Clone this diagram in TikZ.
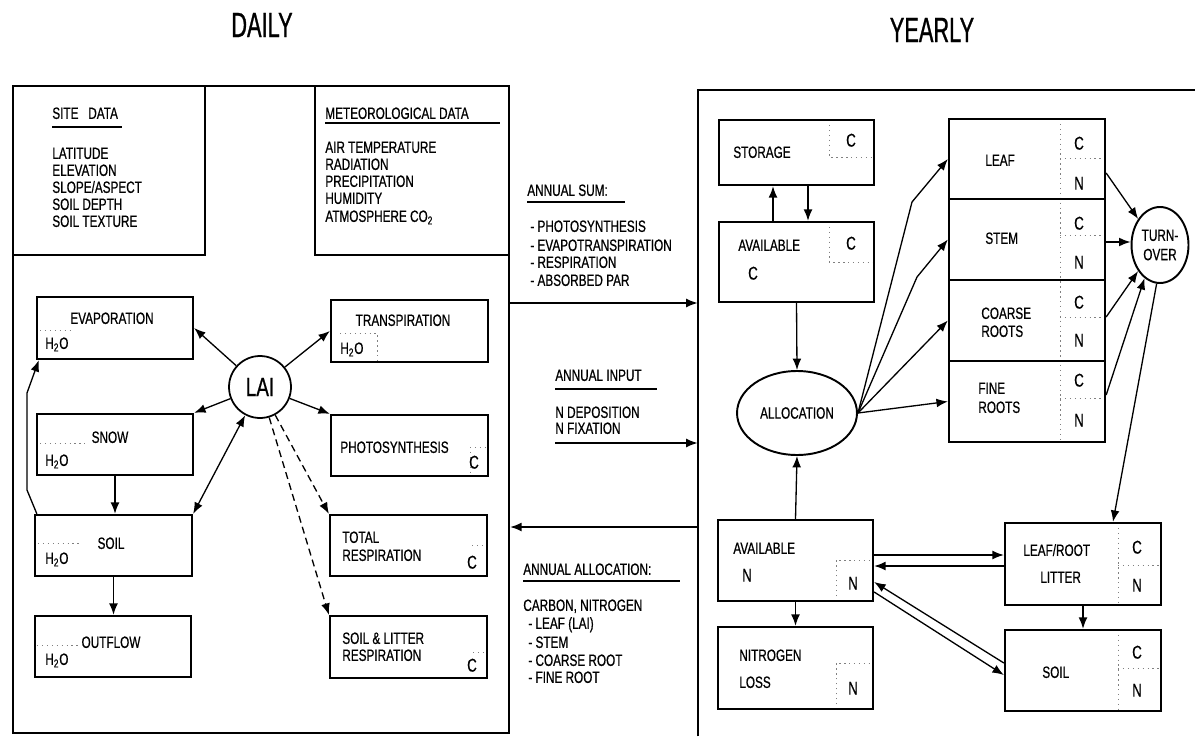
\documentclass[tikz,border=0pt]{standalone}
\usepackage{fontspec}
\setmainfont{Liberation Sans}[FakeStretch=0.72,FakeBold=0.6]
\newfontfamily\titlefont{Liberation Sans}[FakeStretch=0.62,FakeBold=0.8]
\usetikzlibrary{arrows.meta,shapes.geometric,fit}
\tikzset{
 cbox/.style={draw, line width=1.3pt, inner sep=0pt},
 outer/.style={line width=1.3pt},
 lbl/.style={inner sep=0pt, anchor=west, text height=6.7pt, text depth=0pt, font=\fontsize{9.3pt}{11pt}\selectfont},
 cn/.style={lbl, anchor=center, font=\fontsize{10.5pt}{12pt}\selectfont, text height=7.5pt},
 ttl/.style={inner sep=0pt, font=\titlefont\fontsize{20pt}{22pt}\selectfont},
 flow/.style={line width=0.75pt, -{Latex[length=6.5pt,width=5pt]}},
 flowtwo/.style={line width=0.75pt, {Latex[length=6.5pt,width=5pt]}-{Latex[length=6.5pt,width=5pt]}},
 dflow/.style={flow, dash pattern=on 4pt off 2.5pt},
 dsep/.style={line width=0.5pt, gray, dash pattern=on 0.8pt off 2pt},
 uline/.style={line width=1.3pt},
}
\begin{document}
\begin{tikzpicture}[x=0.02cm,y=-0.02cm]
\fill[white] (0,0) rectangle (1195,736);
\useasboundingbox (0,0) rectangle (1195,736);

% titles
\node[ttl] (tdaily) at (262,25) {DAILY};
\node[ttl] (tyearly) at (932,30) {YEARLY};

% ---------- dotted compartment separators ----------
\draw[dsep] (40,330)--(70,330);
\draw[dsep] (340,333)--(377,333)--(377,360);
\draw[dsep] (40,443)--(85,443);
\draw[dsep] (470,447)--(486,447) (470,447)--(470,474);
\draw[dsep] (38,543)--(82,543);
\draw[dsep] (37,645)--(80,645);
\draw[dsep] (472,545)--(485,545);
\draw[dsep] (473,652)--(485,652);
\draw[dsep] (829,120)--(829,157)--(874,157);
\draw[dsep] (829,222)--(829,262)--(874,262);
\draw[dsep] (1060,119)--(1060,442);
\draw[dsep] (1060,158)--(1105,158) (1060,235)--(1105,235) (1060,317)--(1105,317) (1060,398)--(1105,398);
\draw[dsep] (836,601)--(836,560)--(873,560);
\draw[dsep] (836,709)--(836,663)--(873,663);
\draw[dsep] (1118,523)--(1118,605) (1118,565)--(1161,565);
\draw[dsep] (1118,630)--(1118,711) (1118,668)--(1161,668);

% ---------- DAILY panel ----------
\node[cbox, fit={(13,86) (509,733)}] (dailybox) {};
\node[cbox, fit={(13,86) (205,255)}] (site) {};
\node[cbox, fit={(315,86) (509,255)}] (meteo) {};

\node[lbl] (siteh) at (52,113) {SITE\ \ \ DATA};
\draw[uline] (52,127) -- (122,127);
\node[lbl] (s1) at (52,153) {LATITUDE};
\node[lbl] (s2) at (52,170) {ELEVATION};
\node[lbl] (s3) at (52,187) {SLOPE/ASPECT};
\node[lbl] (s4) at (52,204) {SOIL DEPTH};
\node[lbl] (s5) at (52,221) {SOIL TEXTURE};

\node[lbl] (meth) at (325,113) {METEOROLOGICAL DATA};
\draw[uline] (325,123) -- (500,123);
\node[lbl] (m1) at (325,147) {AIR TEMPERATURE};
\node[lbl] (m2) at (325,164) {RADIATION};
\node[lbl] (m3) at (325,181) {PRECIPITATION};
\node[lbl] (m4) at (325,198) {HUMIDITY};
\node[lbl] (m5) at (325,216) {ATMOSPHERE CO\textsubscript{2}};

\node[cbox, fit={(37,297) (193,359)}] (evap) {};
\node[cbox, fit={(37,414) (193,475)}] (snow) {};
\node[cbox, fit={(35,515) (192,576)}] (soil) {};
\node[cbox, fit={(35,616) (191,677)}] (outflow) {};
\node[cbox, fit={(331,300) (488,362)}] (transp) {};
\node[cbox, fit={(331,415) (488,476)}] (photo) {};
\node[cbox, fit={(330,515) (487,576)}] (totresp) {};
\node[cbox, fit={(330,616) (487,678)}] (slr) {};

\node[lbl, anchor=center] (evapT) at (112,318) {EVAPORATION};
\node[lbl] (evapH) at (45,343) {H\textsubscript{2}O};
\node[lbl, anchor=center] (snowT) at (110,437) {SNOW};
\node[lbl] (snowH) at (45,460) {H\textsubscript{2}O};
\node[lbl, anchor=center] (soilT) at (111,543) {SOIL};
\node[lbl] (soilH) at (45,558) {H\textsubscript{2}O};
\node[lbl, anchor=center] (outT) at (111,642) {OUTFLOW};
\node[lbl] (outH) at (45,659) {H\textsubscript{2}O};
\node[lbl, anchor=center] (transpT) at (403,320) {TRANSPIRATION};
\node[lbl] (transpH) at (340,348) {H\textsubscript{2}O};
\node[lbl] (photoT) at (340,447) {PHOTOSYNTHESIS};
\node[cn] (photoC) at (474,462) {C};
\node[lbl] (trT1) at (342,537) {TOTAL};
\node[lbl] (trT2) at (342,555) {RESPIRATION};
\node[cn] (trC) at (472,562) {C};
\node[lbl] (slT1) at (342,638) {SOIL \& LITTER};
\node[lbl] (slT2) at (342,655) {RESPIRATION};
\node[cn] (slC) at (472,665) {C};

\node[draw, circle, line width=1pt, minimum size=1.24cm, inner sep=0pt,
      font=\fontsize{15pt}{17pt}\selectfont] (lai) at (260,387) {LAI};

\draw[flow] (lai) -- (evap.east);
\draw[flow] (lai) -- (transp.west);
\draw[flow] (lai) -- (snow.north east);
\draw[flow] (lai) -- (photo.north west);
\draw[flowtwo] (lai) -- (soil.north east);
\draw[dflow] (lai) -- (totresp.north west);
\draw[dflow] (lai) -- (slr.north west);
\draw[flow] (snow.south) -- (snow.south |- soil.north);
\draw[flow] (soil.south) -- (soil.south |- outflow.north);
\coordinate (ev1) at (27,490);
\coordinate (ev2) at (27,393);
\draw[flow] ([xshift=0.06cm]soil.north west) -- (ev1) -- (ev2) -- ([xshift=0.06cm]evap.south west);

% ---------- YEARLY panel ----------
\node[inner sep=0pt, fit={(698,90) (1195,736)}] (yearlybox) {};
\draw[outer] (yearlybox.south west) -- (yearlybox.north west) -- (yearlybox.north east);

% ---------- middle texts and flows ----------
\node[lbl] (sumh) at (527,190) {ANNUAL SUM:};
\draw[uline] (527,202) -- (625,202);
\node[lbl] (sum1) at (530,226) {- PHOTOSYNTHESIS};
\node[lbl] (sum2) at (530,245) {- EVAPOTRANSPIRATION};
\node[lbl] (sum3) at (530,262) {- RESPIRATION};
\node[lbl] (sum4) at (530,280) {- ABSORBED PAR};

\node[lbl] (inh) at (555,375) {ANNUAL INPUT};
\draw[uline] (555,389) -- (657,389);
\node[lbl] (in1) at (555,412) {N DEPOSITION};
\node[lbl] (in2) at (555,428) {N FIXATION};

\node[lbl] (alh) at (523,569) {ANNUAL ALLOCATION:};
\draw[uline] (523,581) -- (680,581);
\node[lbl] (al0) at (523,605) {CARBON, NITROGEN};
\node[lbl] (al1) at (528,623) {- LEAF (LAI)};
\node[lbl] (al2) at (528,642) {- STEM};
\node[lbl] (al3) at (528,660) {- COARSE ROOT};
\node[lbl] (al4) at (528,677) {- FINE ROOT};

\coordinate (ysum) at (600,303);
\draw[flow] (dailybox.east |- ysum) -- (yearlybox.west |- ysum);
\coordinate (inS) at (555,443);
\draw[flow] (inS) -- (yearlybox.west |- inS);
\coordinate (yback) at (600,527);
\draw[flow] (yearlybox.west |- yback) -- (dailybox.east |- yback);

% ---------- YEARLY boxes ----------
\node[cbox, fit={(719,120) (874,185)}] (storage) {};
\node[cbox, fit={(719,222) (874,302)}] (availC) {};
\node[cbox, fit={(949,119) (1105,199)}] (leaf) {};
\node[cbox, fit={(949,199) (1105,280)}] (stem) {};
\node[cbox, fit={(949,280) (1105,361)}] (coarse) {};
\node[cbox, fit={(949,361) (1105,442)}] (fine) {};
\node[cbox, fit={(718,520) (873,601)}] (availN) {};
\node[cbox, fit={(718,627) (873,709)}] (nloss) {};
\node[cbox, fit={(1005,523) (1161,605)}] (litter) {};
\node[cbox, fit={(1005,630) (1161,711)}] (soilR) {};

\node[lbl] (storT) at (733,152) {STORAGE};
\node[cn] (storC) at (851,140) {C};
\node[lbl] (avcT) at (738,245) {AVAILABLE};
\node[cn] (avcT2) at (753,273) {C};
\node[cn] (avcC) at (851,243) {C};

\node[lbl] (leafT) at (985,160) {LEAF};
\node[cn] (leafC) at (1079,143) {C};
\node[cn] (leafN) at (1079,183) {N};
\node[lbl] (stemT) at (985,238) {STEM};
\node[cn] (stemC) at (1079,223) {C};
\node[cn] (stemN) at (1079,262) {N};
\node[lbl] (coT1) at (981,313) {COARSE};
\node[lbl] (coT2) at (981,331) {ROOTS};
\node[cn] (coC) at (1079,302) {C};
\node[cn] (coN) at (1079,340) {N};
\node[lbl] (fiT1) at (978,388) {FINE};
\node[lbl] (fiT2) at (978,407) {ROOTS};
\node[cn] (fiC) at (1079,380) {C};
\node[cn] (fiN) at (1079,420) {N};

\node[lbl] (avnT) at (733,548) {AVAILABLE};
\node[cn] (avnT2) at (747,575) {N};
\node[cn] (avnN) at (853,583) {N};
\node[lbl] (nlT1) at (739,655) {NITROGEN};
\node[lbl] (nlT2) at (739,682) {LOSS};
\node[cn] (nlN) at (853,688) {N};
\node[lbl] (liT1) at (1023,550) {LEAF/ROOT};
\node[lbl] (liT2) at (1040,577) {LITTER};
\node[cn] (liC) at (1137,547) {C};
\node[cn] (liN) at (1137,585) {N};
\node[lbl] (soRT) at (1042,672) {SOIL};
\node[cn] (soRC) at (1137,652) {C};
\node[cn] (soRN) at (1137,690) {N};

\node[draw, ellipse, line width=1.1pt, minimum width=2.4cm, minimum height=1.68cm, inner sep=0pt,
      font=\fontsize{9.3pt}{11pt}\selectfont] (alloc) at (797,413) {ALLOCATION};
\node[draw, ellipse, line width=1.1pt, minimum width=1.14cm, minimum height=1.52cm, inner sep=0pt,
      align=center, font=\fontsize{9.3pt}{11pt}\selectfont] (turn) at (1160,245) {TURN-\\OVER};

% ---------- YEARLY flows ----------
\coordinate (su) at (773,0);
\coordinate (sd) at (808,0);
\draw[flow] (availC.north -| su) -- (storage.south -| su);
\draw[flow] (storage.south -| sd) -- (availC.north -| sd);
\draw[flow] (availC.south) -- (alloc.north);
\draw[flow] (availN.north) -- (alloc.south);

\coordinate (bl) at (912,202);
\coordinate (bs) at (917,277);
\draw[flow] (alloc.east) -- (bl) -- (leaf.west);
\draw[flow] (alloc.east) -- (bs) -- (stem.west);
\draw[flow] (alloc.east) -- (coarse.west);
\draw[flow] (alloc.east) -- (fine.west);

\coordinate (sy) at (0,242);
\draw[flow] ([yshift=-0.28cm]leaf.east) -- (turn.130);
\draw[flow] (stem.east |- sy) -- (turn.west |- sy);
\draw[flow] ([yshift=0.07cm]coarse.east) -- (turn.230);
\draw[flow] ([yshift=0.13cm]fine.east) -- (turn.245);
\draw[flow] (turn.265) -- ([xshift=0.6cm]litter.north);

\coordinate (h1) at (0,555);
\coordinate (h2) at (0,566);
\draw[flow] (availN.east |- h1) -- (litter.west |- h1);
\draw[flow] (litter.west |- h2) -- (availN.east |- h2);
\coordinate (d1) at (0,582);
\coordinate (d2) at (0,592);
\coordinate (d3) at (0,663);
\coordinate (d4) at (0,675);
\draw[flow] (soilR.west |- d3) -- (availN.east |- d1);
\draw[flow] (availN.east |- d2) -- (soilR.west |- d4);
\draw[flow] (availN.south) -- (nloss.north);
\draw[flow] (litter.south) -- (soilR.north);
\end{tikzpicture}
\end{document}
